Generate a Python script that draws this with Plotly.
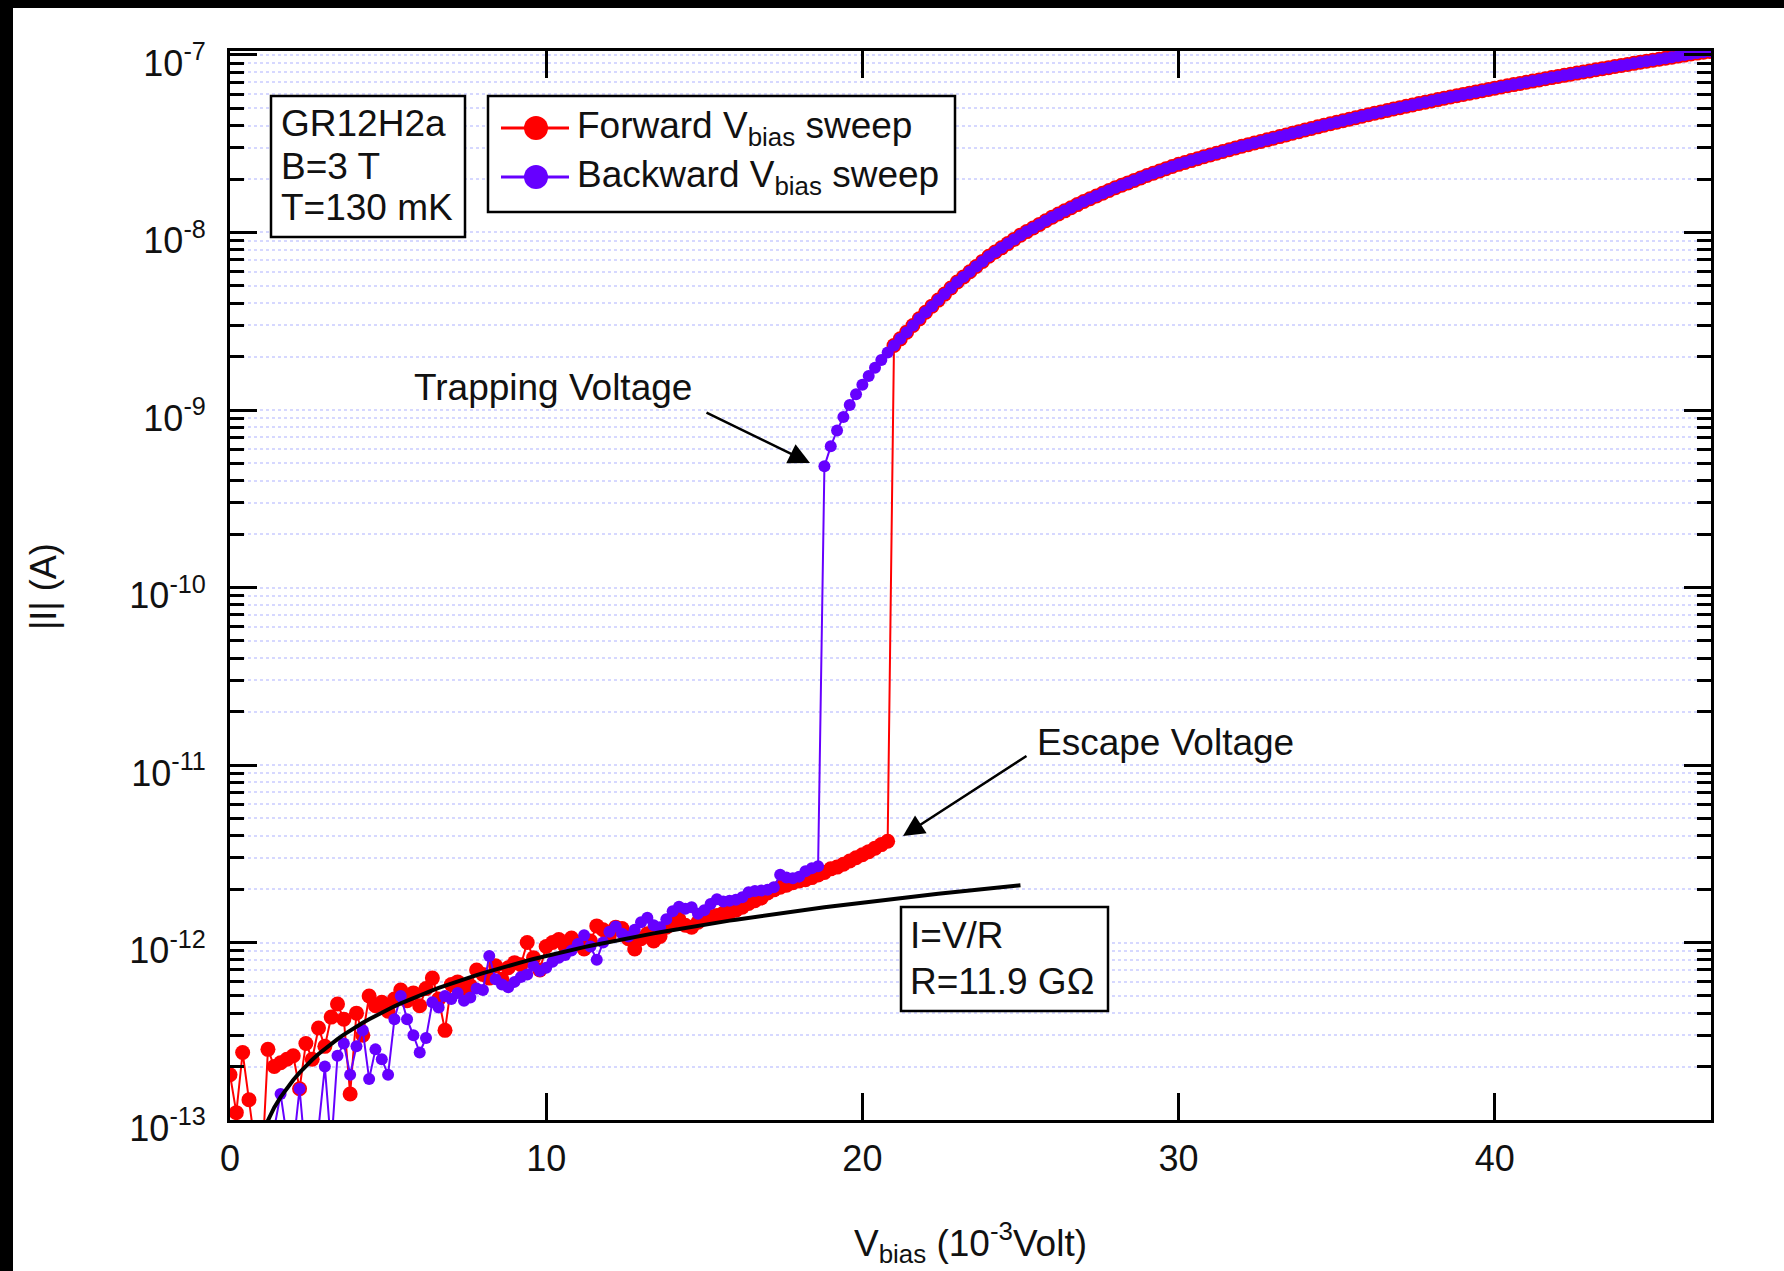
import numpy as np
import plotly.graph_objects as go

# ---------------------------------------------------------------- data
V_STEP = 0.2        # bias step of both sweeps, mV
V_TRAP = 18.8       # first bias of the high-current branch, mV
R_FIT_GOHM = 11.9   # ohmic fit resistance, GOhm

# forward sweep, low-current branch, V = 0.0 ... 20.8 mV (pA)
fwd_low_pA = [
    0.18, 0.11, 0.24, 0.13, 0.07, 0.05, 0.25, 0.20, 0.21, 0.22,
    0.23, 0.15, 0.27, 0.22, 0.33, 0.26, 0.38, 0.45, 0.37, 0.14,
    0.40, 0.30, 0.50, 0.44, 0.46, 0.41, 0.48, 0.54, 0.47, 0.52,
    0.44, 0.55, 0.63, 0.48, 0.32, 0.58, 0.60, 0.52, 0.57, 0.70,
    0.66, 0.63, 0.74, 0.62, 0.72, 0.77, 0.75, 1.00, 0.82, 0.70,
    0.95, 1.00, 1.04, 0.95, 1.06, 1.00, 0.92, 1.02, 1.24, 1.18,
    1.10, 1.22, 1.20, 1.05, 0.92, 1.05, 1.12, 1.02, 1.08, 1.22,
    1.30, 1.35, 1.25, 1.22, 1.30, 1.36, 1.40, 1.42, 1.46, 1.48,
    1.52, 1.58, 1.66, 1.72, 1.78, 1.90, 1.98, 2.05, 2.10, 2.17,
    2.22, 2.26, 2.32, 2.40, 2.48, 2.60, 2.66, 2.76, 2.88, 3.00,
    3.12, 3.25, 3.40, 3.56, 3.72,
]

# backward sweep, low-current branch, V = 0.0 ... 18.6 mV (pA)
bwd_low_pA = [
    0.04, 0.06, 0.03, 0.07, 0.05, 0.08, 0.06, 0.09, 0.14, 0.08,
    0.07, 0.15, 0.06, 0.07, 0.09, 0.20, 0.07, 0.23, 0.27, 0.18,
    0.26, 0.32, 0.17, 0.25, 0.22, 0.18, 0.37, 0.50, 0.37, 0.30,
    0.24, 0.29, 0.46, 0.43, 0.50, 0.48, 0.52, 0.47, 0.49, 0.55,
    0.54, 0.84, 0.62, 0.58, 0.56, 0.60, 0.64, 0.66, 0.74, 0.69,
    0.72, 0.78, 0.82, 0.85, 0.90, 0.98, 1.10, 0.95, 0.80, 1.00,
    1.15, 1.23, 1.12, 1.08, 1.18, 1.30, 1.38, 1.25, 1.22, 1.35,
    1.50, 1.59, 1.55, 1.58, 1.45, 1.52, 1.65, 1.75, 1.70, 1.72,
    1.74, 1.80, 1.92, 1.95, 1.96, 1.98, 2.05, 2.41, 2.32, 2.30,
    2.35, 2.52, 2.62, 2.69,
]

# high-current branch shared by both sweeps, V = 18.8 ... 46.8 mV (nA)
upper_nA = [
    0.482, 0.624, 0.767, 0.912, 1.067, 1.225, 1.387, 1.556, 1.730, 1.914,
    2.109, 2.307, 2.517, 2.745, 2.992, 3.262, 3.556, 3.846, 4.159, 4.498,
    4.864, 5.260, 5.623, 6.012, 6.427, 6.871, 7.345, 7.757, 8.194, 8.656,
    9.144, 9.660, 10.12, 10.61, 11.11, 11.64, 12.20, 12.71, 13.24, 13.79,
    14.36, 14.96, 15.50, 16.06, 16.64, 17.24, 17.86, 18.44, 19.03, 19.65,
    20.29, 20.94, 21.56, 22.19, 22.85, 23.52, 24.21, 24.81, 25.42, 26.05,
    26.69, 27.35, 27.97, 28.61, 29.26, 29.93, 30.62, 31.26, 31.92, 32.58,
    33.27, 33.96, 34.70, 35.45, 36.22, 37.00, 37.80, 38.57, 39.36, 40.17,
    40.99, 41.83, 42.65, 43.48, 44.33, 45.20, 46.08, 46.94, 47.81, 48.70,
    49.60, 50.52, 51.41, 52.32, 53.25, 54.19, 55.14, 56.08, 57.03, 57.99,
    58.98, 59.98, 60.95, 61.94, 62.95, 63.97, 65.01, 66.02, 67.05, 68.09,
    69.15, 70.23, 71.29, 72.36, 73.45, 74.56, 75.68, 76.79, 77.91, 79.05,
    80.20, 81.37, 82.52, 83.69, 84.87, 86.07, 87.30, 88.49, 89.70, 90.93,
    92.18, 93.43, 94.69, 95.96, 97.25, 98.56, 99.88, 101.2, 102.5, 103.7,
    104.8,
]

x_ticks = [0, 10, 20, 30, 40]
y_exponents = [-13, -12, -11, -10, -9, -8, -7]

# ---------------------------------------------------------------- series
v_fwd_low = np.round(V_STEP * np.arange(len(fwd_low_pA)), 1)
v_bwd_low = np.round(V_STEP * np.arange(len(bwd_low_pA)), 1)
v_upper = np.round(V_TRAP + V_STEP * np.arange(len(upper_nA)), 1)

i_fwd_low = np.array(fwd_low_pA) * 1e-12
i_bwd_low = np.array(bwd_low_pA) * 1e-12
i_upper = np.array(upper_nA) * 1e-9

# forward sweep escapes onto the upper branch right after its last low point
esc = int(np.searchsorted(v_upper, v_fwd_low[-1] + V_STEP / 2))
v_fwd = np.concatenate([v_fwd_low, v_upper[esc:]])
i_fwd = np.concatenate([i_fwd_low, i_upper[esc:]])

# backward sweep runs from high bias down and is trapped at V_TRAP
v_bwd = np.concatenate([v_upper[::-1], v_bwd_low[::-1]])
i_bwd = np.concatenate([i_upper[::-1], i_bwd_low[::-1]])

# ohmic line I = V / R
v_fit = np.linspace(1.0, 25.0, 121)
i_fit = v_fit * 1e-3 / (R_FIT_GOHM * 1e9)

# ---------------------------------------------------------------- styling
W, H = 1784, 1271
PL, PR, PT, PB = 230, 1711, 51, 1120   # plot area in pixels
FONT = "Liberation Sans, Arial, Helvetica, sans-serif"
RED = "#ff0000"
PURPLE = "#6600ff"
GRID = "rgba(120,125,255,0.30)"


def px(x):
    return (x - PL) / (PR - PL)


def py(y):
    return (PB - y) / (PB - PT)


fig = go.Figure()
fig.add_trace(go.Scatter(
    x=v_fwd, y=i_fwd, mode="lines+markers", name="Forward",
    line=dict(color=RED, width=2), marker=dict(color=RED, size=15),
    showlegend=False))
fig.add_trace(go.Scatter(
    x=v_bwd, y=i_bwd, mode="lines+markers", name="Backward",
    line=dict(color=PURPLE, width=2), marker=dict(color=PURPLE, size=12),
    showlegend=False))
fig.add_trace(go.Scatter(
    x=v_fit, y=i_fit, mode="lines", name="I=V/R",
    line=dict(color="black", width=4), showlegend=False))

major_vals = [10.0 ** e for e in y_exponents]
major_text = [f"10<sup>{e}</sup>" for e in y_exponents]
minor_vals = [k * 10.0 ** e for e in y_exponents[:-1] for k in range(2, 10)]

fig.update_xaxes(
    range=[0, 46.84], tickvals=x_ticks, ticktext=[str(t) for t in x_ticks],
    ticks="inside", ticklen=27, tickwidth=2.5, tickcolor="black",
    mirror="ticks", showline=True, linewidth=3, linecolor="black",
    showgrid=False, zeroline=False,
    tickfont=dict(family=FONT, size=36, color="#111"),
    ticklabelstandoff=5,
)
fig.update_yaxes(
    type="log", range=[-13, -6.9775],
    tickvals=major_vals, ticktext=major_text,
    ticks="inside", ticklen=27, tickwidth=3, tickcolor="black",
    mirror="ticks", showline=True, linewidth=3, linecolor="black",
    showgrid=True, gridcolor=GRID, gridwidth=1.5, griddash="dot",
    zeroline=False,
    tickfont=dict(family=FONT, size=36, color="#111"),
    ticklabelstandoff=14, ticklabelshift=8,
    minor=dict(tickvals=minor_vals, ticks="inside", ticklen=14,
               tickwidth=2.5, tickcolor="black", showgrid=True,
               gridcolor=GRID, gridwidth=1.5, griddash="dot"),
)

shapes = []
annotations = []


def box(x0, y0, x1, y1):
    shapes.append(dict(type="rect", xref="paper", yref="paper",
                       x0=px(x0), x1=px(x1), y0=py(y1), y1=py(y0),
                       line=dict(color="black", width=2.5),
                       fillcolor="white", layer="above"))


def text(t, x, y, size=37, xanchor="left", angle=0):
    annotations.append(dict(text=t, xref="paper", yref="paper",
                            x=px(x), y=py(y), xanchor=xanchor,
                            yanchor="middle", showarrow=False,
                            textangle=angle,
                            font=dict(family=FONT, size=size, color="#111")))


# sample / conditions box
box(271, 96, 465, 237)
for t, y in [("GR12H2a", 124), ("B=3 T", 166), ("T=130 mK", 208)]:
    text(t, 279, y)

# legend box
box(488, 96, 955, 212)
for label, col, y in [("Forward V<sub>bias</sub> sweep", RED, 128),
                      ("Backward V<sub>bias</sub> sweep", PURPLE, 177)]:
    shapes.append(dict(type="line", xref="paper", yref="paper",
                       x0=px(501), x1=px(569), y0=py(y), y1=py(y),
                       line=dict(color=col, width=3), layer="above"))
    shapes.append(dict(type="circle", xref="paper", yref="paper",
                       x0=px(524), x1=px(548), y0=py(y + 12), y1=py(y - 12),
                       line=dict(width=0), fillcolor=col, layer="above"))
    text(label, 575, y)

# ohmic fit box
box(901, 907, 1108, 1011)
text("I=V/R", 908, 935)
text("R=11.9 G\u03a9", 908, 981)

# arrows with their labels
text("Trapping Voltage", 412, 387)
annotations.append(dict(x=px(810), y=py(463), xref="paper", yref="paper",
                        ax=-105, ay=-51, text="", showarrow=True,
                        arrowhead=2, arrowsize=1.7, arrowwidth=2.5,
                        arrowcolor="black", standoff=0))
text("Escape Voltage", 1035, 742)
annotations.append(dict(x=px(903), y=py(836), xref="paper", yref="paper",
                        ax=125, ay=-81, text="", showarrow=True,
                        arrowhead=2, arrowsize=1.7, arrowwidth=2.5,
                        arrowcolor="black", standoff=0))

# axis titles
text("|I| (A)", 43, 586, size=36, xanchor="center", angle=-90)
text("V<sub>bias</sub> (10<sup>-3</sup>Volt)", 970, 1242, size=37,
     xanchor="center")

# dark frame strips along the top and left edges of the page
shapes.append(dict(type="rect", xref="paper", yref="paper",
                   x0=px(-20), x1=px(13), y0=py(H + 20), y1=py(-20),
                   line=dict(width=0), fillcolor="black", layer="above"))
shapes.append(dict(type="rect", xref="paper", yref="paper",
                   x0=px(-20), x1=px(W + 20), y0=py(8), y1=py(-20),
                   line=dict(width=0), fillcolor="black", layer="above"))

fig.update_layout(
    width=W, height=H,
    margin=dict(l=PL, r=W - PR, t=PT, b=H - PB, autoexpand=False),
    paper_bgcolor="white", plot_bgcolor="white",
    font=dict(family=FONT, color="#111"),
    shapes=shapes, annotations=annotations, showlegend=False,
)

fig.write_html("out.html")
